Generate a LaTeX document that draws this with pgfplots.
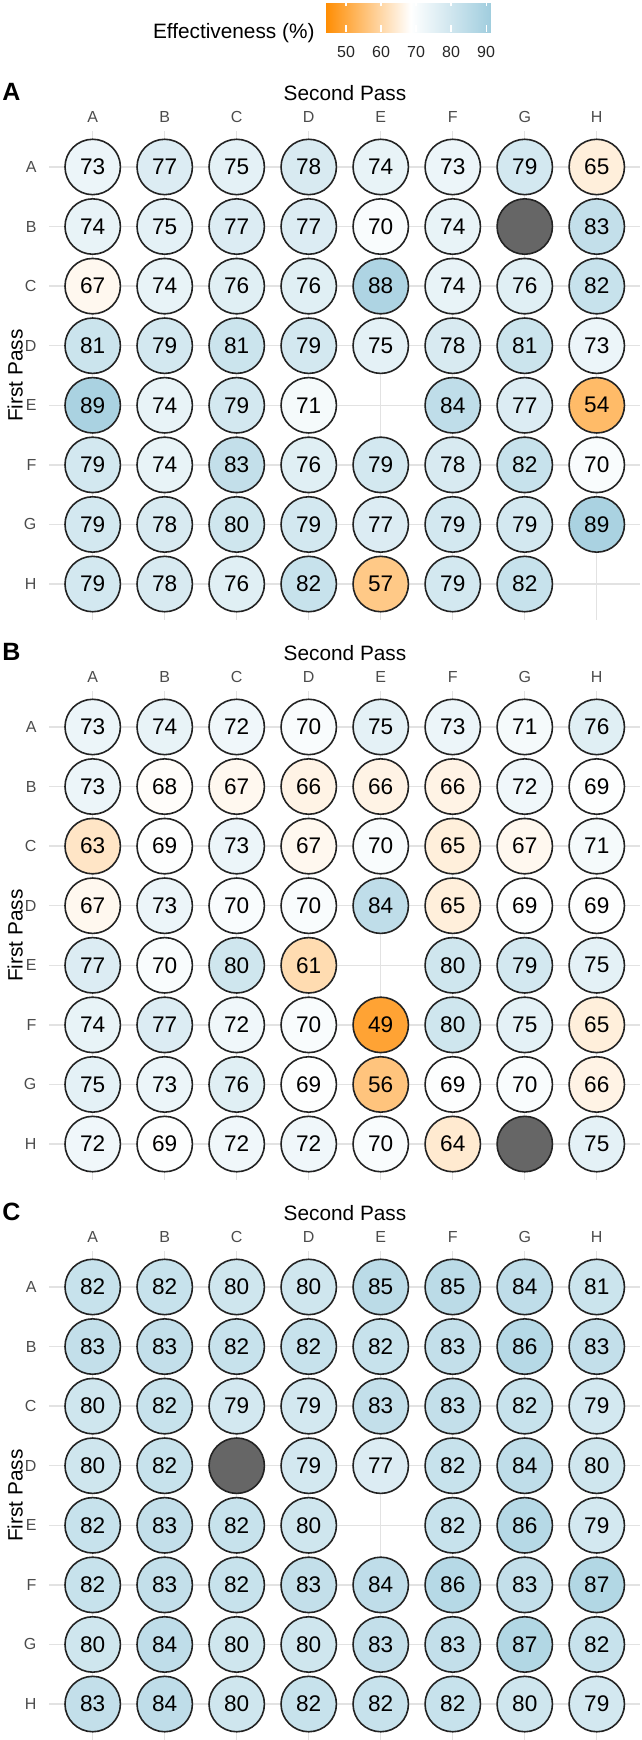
\documentclass[border=0pt]{standalone}
\usepackage{fontspec}
\setmainfont{Liberation Sans}
\usepackage{pgfplots}
\usepackage{pgfplotstable}
\pgfplotsset{compat=1.18}

\definecolor{nagray}{RGB}{102,102,102}
\definecolor{gridgray}{RGB}{226,226,226}
\definecolor{ringcol}{RGB}{35,35,35}

\newcommand\tickfont{\fontsize{8}{10}\selectfont}
\newcommand\titlefont{\fontsize{10.4}{12}\selectfont}
\newcommand\numfont{\fontsize{11.3}{13}\selectfont}
\newcommand\panelfont{\fontsize{12.5}{15}\selectfont\bfseries}

% orange -> white -> light blue, positions = 10*(value-44)
\pgfplotsset{
  colormap={eff}{rgb255(0pt)=(255,140,0) rgb255(245pt)=(255,255,255) rgb255(474pt)=(160,205,222)},
  /pgf/number format/assume math mode=true,
  panel/.style={
    scale only axis, width=295.25pt, height=244.3pt, anchor=north west,
    xmin=-0.6, xmax=7.6, ymin=-0.6, ymax=7.6, y dir=reverse,
    xtick={0,...,7}, ytick={0,...,7},
    xticklabels={A,B,C,D,E,F,G,H}, yticklabels={A,B,C,D,E,F,G,H},
    xticklabel pos=upper,
    grid=major, major grid style={line width=0.7pt, draw=gridgray},
    axis line style={draw=none}, major tick length=0pt, tick style={draw=none},
    ticklabel style={font=\tickfont, text=black!70},
    xticklabel style={anchor=base, yshift=4.25pt},
    yticklabel style={xshift=-3pt},
    clip=false,
    colormap name=eff, point meta min=44, point meta max=91.4,
  },
  wells/.style={
    scatter, only marks, mark=*, mark size=13.85pt,
    scatter/use mapped color={draw=ringcol, fill=mapped color, line width=0.8pt},
    point meta=explicit,
  },
  welllabels/.style={
    only marks, mark=none, point meta=explicit,
    nodes near coords, nodes near coords align={center},
    every node near coord/.append style={font=\numfont, text=black},
  },
  nawell/.style={
    only marks, mark=*, mark size=13.85pt,
    mark options={fill=nagray, draw=ringcol, line width=0.8pt},
  },
}

% x = Second Pass (A..H -> 0..7), y = First Pass (A..H -> 0..7)
\pgfplotstableread[row sep=\\]{
x y v\\
0 0 73\\ 1 0 77\\ 2 0 75\\ 3 0 78\\ 4 0 74\\ 5 0 73\\ 6 0 79\\ 7 0 65\\
0 1 74\\ 1 1 75\\ 2 1 77\\ 3 1 77\\ 4 1 70\\ 5 1 74\\ 7 1 83\\
0 2 67\\ 1 2 74\\ 2 2 76\\ 3 2 76\\ 4 2 88\\ 5 2 74\\ 6 2 76\\ 7 2 82\\
0 3 81\\ 1 3 79\\ 2 3 81\\ 3 3 79\\ 4 3 75\\ 5 3 78\\ 6 3 81\\ 7 3 73\\
0 4 89\\ 1 4 74\\ 2 4 79\\ 3 4 71\\ 5 4 84\\ 6 4 77\\ 7 4 54\\
0 5 79\\ 1 5 74\\ 2 5 83\\ 3 5 76\\ 4 5 79\\ 5 5 78\\ 6 5 82\\ 7 5 70\\
0 6 79\\ 1 6 78\\ 2 6 80\\ 3 6 79\\ 4 6 77\\ 5 6 79\\ 6 6 79\\ 7 6 89\\
0 7 79\\ 1 7 78\\ 2 7 76\\ 3 7 82\\ 4 7 57\\ 5 7 79\\ 6 7 82\\
}\panelA

\pgfplotstableread[row sep=\\]{
x y v\\
0 0 73\\ 1 0 74\\ 2 0 72\\ 3 0 70\\ 4 0 75\\ 5 0 73\\ 6 0 71\\ 7 0 76\\
0 1 73\\ 1 1 68\\ 2 1 67\\ 3 1 66\\ 4 1 66\\ 5 1 66\\ 6 1 72\\ 7 1 69\\
0 2 63\\ 1 2 69\\ 2 2 73\\ 3 2 67\\ 4 2 70\\ 5 2 65\\ 6 2 67\\ 7 2 71\\
0 3 67\\ 1 3 73\\ 2 3 70\\ 3 3 70\\ 4 3 84\\ 5 3 65\\ 6 3 69\\ 7 3 69\\
0 4 77\\ 1 4 70\\ 2 4 80\\ 3 4 61\\ 5 4 80\\ 6 4 79\\ 7 4 75\\
0 5 74\\ 1 5 77\\ 2 5 72\\ 3 5 70\\ 4 5 49\\ 5 5 80\\ 6 5 75\\ 7 5 65\\
0 6 75\\ 1 6 73\\ 2 6 76\\ 3 6 69\\ 4 6 56\\ 5 6 69\\ 6 6 70\\ 7 6 66\\
0 7 72\\ 1 7 69\\ 2 7 72\\ 3 7 72\\ 4 7 70\\ 5 7 64\\ 7 7 75\\
}\panelB

\pgfplotstableread[row sep=\\]{
x y v\\
0 0 82\\ 1 0 82\\ 2 0 80\\ 3 0 80\\ 4 0 85\\ 5 0 85\\ 6 0 84\\ 7 0 81\\
0 1 83\\ 1 1 83\\ 2 1 82\\ 3 1 82\\ 4 1 82\\ 5 1 83\\ 6 1 86\\ 7 1 83\\
0 2 80\\ 1 2 82\\ 2 2 79\\ 3 2 79\\ 4 2 83\\ 5 2 83\\ 6 2 82\\ 7 2 79\\
0 3 80\\ 1 3 82\\ 3 3 79\\ 4 3 77\\ 5 3 82\\ 6 3 84\\ 7 3 80\\
0 4 82\\ 1 4 83\\ 2 4 82\\ 3 4 80\\ 5 4 82\\ 6 4 86\\ 7 4 79\\
0 5 82\\ 1 5 83\\ 2 5 82\\ 3 5 83\\ 4 5 84\\ 5 5 86\\ 6 5 83\\ 7 5 87\\
0 6 80\\ 1 6 84\\ 2 6 80\\ 3 6 80\\ 4 6 83\\ 5 6 83\\ 6 6 87\\ 7 6 82\\
0 7 83\\ 1 7 84\\ 2 7 80\\ 3 7 82\\ 4 7 82\\ 5 7 82\\ 6 7 80\\ 7 7 79\\
}\panelC

\begin{document}
\begin{tikzpicture}
\path[use as bounding box] (0,0) rectangle (321pt,-870pt);

% legend title
\node[anchor=base west, inner sep=0pt, font=\titlefont] at (76.3pt,-19.15pt) {Effectiveness (\%)};

% panel A (with colour bar)
\begin{axis}[panel, at={(24.75pt,-65.6pt)},
  colorbar horizontal,
  colorbar style={
    at={(parent axis.north west)}, anchor=south west,
    xshift=137.75pt, yshift=58.1pt,
    scale only axis, width=83pt, height=16.5pt,
    xtick={50,60,70,80,90}, xtick pos=both, xticklabel pos=lower,
    tick align=inside, major tick length=3.3pt,
    xtick style={draw=white, line width=0.6pt},
    axis line style={draw=none},
    xticklabel style={font=\tickfont, text=black!85, anchor=base, yshift=-12.5pt},
  }]
\addplot[wells] table[x=x, y=y, meta=v]{\panelA};
\addplot[nawell] coordinates {(6,1)};
\addplot[welllabels] table[x=x, y=y, meta=v]{\panelA};
\end{axis}

% panel B
\begin{axis}[panel, at={(24.75pt,-345.6pt)}]
\addplot[wells] table[x=x, y=y, meta=v]{\panelB};
\addplot[nawell] coordinates {(6,7)};
\addplot[welllabels] table[x=x, y=y, meta=v]{\panelB};
\end{axis}

% panel C
\begin{axis}[panel, at={(24.75pt,-625.6pt)}]
\addplot[wells] table[x=x, y=y, meta=v]{\panelC};
\addplot[nawell] coordinates {(2,3)};
\addplot[welllabels] table[x=x, y=y, meta=v]{\panelC};
\end{axis}

% titles and panel tags
\foreach \tag [count=\k from 0] in {A,B,C} {
  \node[anchor=base west, inner sep=0pt, font=\panelfont] at (1pt,-50pt-\k*280pt) {\tag};
  \node[anchor=base, inner sep=0pt, font=\titlefont] at (172.5pt,-50pt-\k*280pt) {Second Pass};
  \node[anchor=base, inner sep=0pt, rotate=90, font=\titlefont] at (11.3pt,-187.75pt-\k*280pt) {First Pass};
}
\end{tikzpicture}
\end{document}
